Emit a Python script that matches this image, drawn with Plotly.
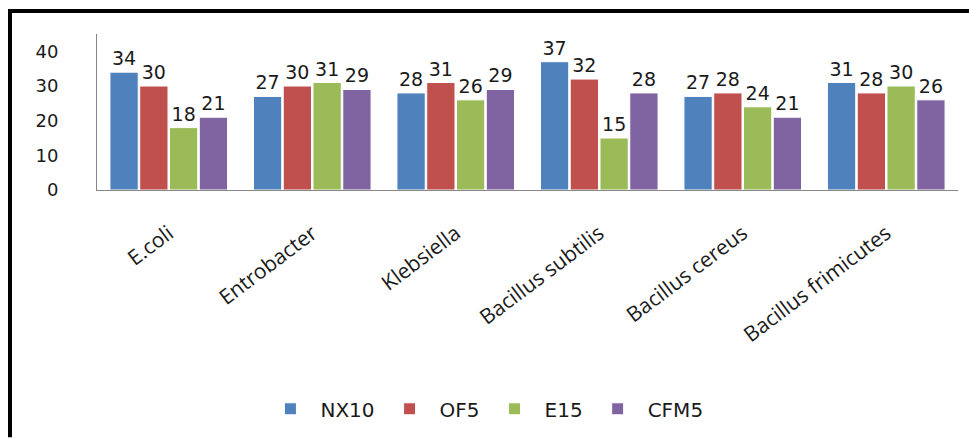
import plotly.graph_objects as go

categories = ["E.coli", "Entrobacter", "Klebsiella", "Bacillus subtilis", "Bacillus cereus", "Bacillus frimicutes"]
series_names = ["NX10", "OF5", "E15", "CFM5"]
nx10 = [34, 27, 28, 37, 27, 31]
of5 = [30, 30, 31, 32, 28, 28]
e15 = [18, 31, 26, 15, 24, 30]
cfm5 = [21, 29, 29, 28, 21, 26]
colors = ["#4F81BD", "#C0504D", "#9BBB59", "#8064A2"]
y_ticks = [0, 10, 20, 30, 40]

W, H = 969, 439
L, R, T, B = 97, 11, 34, 246

fig = go.Figure()
for name, vals, col in zip(series_names, [nx10, of5, e15, cfm5], colors):
    fig.add_trace(go.Bar(
        x=categories, y=vals, name=name,
        marker=dict(color=col, line=dict(color="white", width=1)),
        text=[str(v) for v in vals], textposition="outside",
        textfont=dict(family="DejaVu Sans", size=19, color="#1a1a1a"),
        cliponaxis=False,
    ))

pw = W - L - R
ph = H - T - B
def px_x(x):
    return (x - L) / pw
def px_y(y):
    return (H - B - y) / ph

fig.update_layout(
    width=W, height=H,
    margin=dict(l=L, r=R, t=T, b=B, pad=0),
    paper_bgcolor="white", plot_bgcolor="white",
    barmode="group", bargap=0.17, bargroupgap=0.05,
    uniformtext=dict(minsize=19, mode="show"),
    showlegend=True,
    legend=dict(orientation="h", x=0.45, xanchor="center", y=px_y(416), yanchor="middle",
                font=dict(family="DejaVu Sans", size=20, color="#1a1a1a"),
                itemwidth=50, traceorder="normal"),
    xaxis=dict(showline=True, linecolor="#868686", linewidth=1, tickangle=-37,
               tickfont=dict(family="Open Sans", size=21, color="#1a1a1a"),
               ticks="", ticklabelstandoff=22),
    yaxis=dict(range=[0, 45], tickvals=y_ticks, showgrid=False, zeroline=False,
               showline=True, linecolor="#868686", linewidth=1,
               tickfont=dict(family="DejaVu Sans", size=18, color="#1a1a1a"),
               ticks="", ticklabelstandoff=34),
    shapes=[
        dict(type="line", xref="paper", yref="paper", x0=px_x(10), x1=px_x(10),
             y0=px_y(9), y1=px_y(445), line=dict(color="black", width=4)),
        dict(type="line", xref="paper", yref="paper", x0=px_x(8), x1=px_x(975),
             y0=px_y(10.5), y1=px_y(10.5), line=dict(color="black", width=4)),
    ],
)

fig.write_html("out.html")
